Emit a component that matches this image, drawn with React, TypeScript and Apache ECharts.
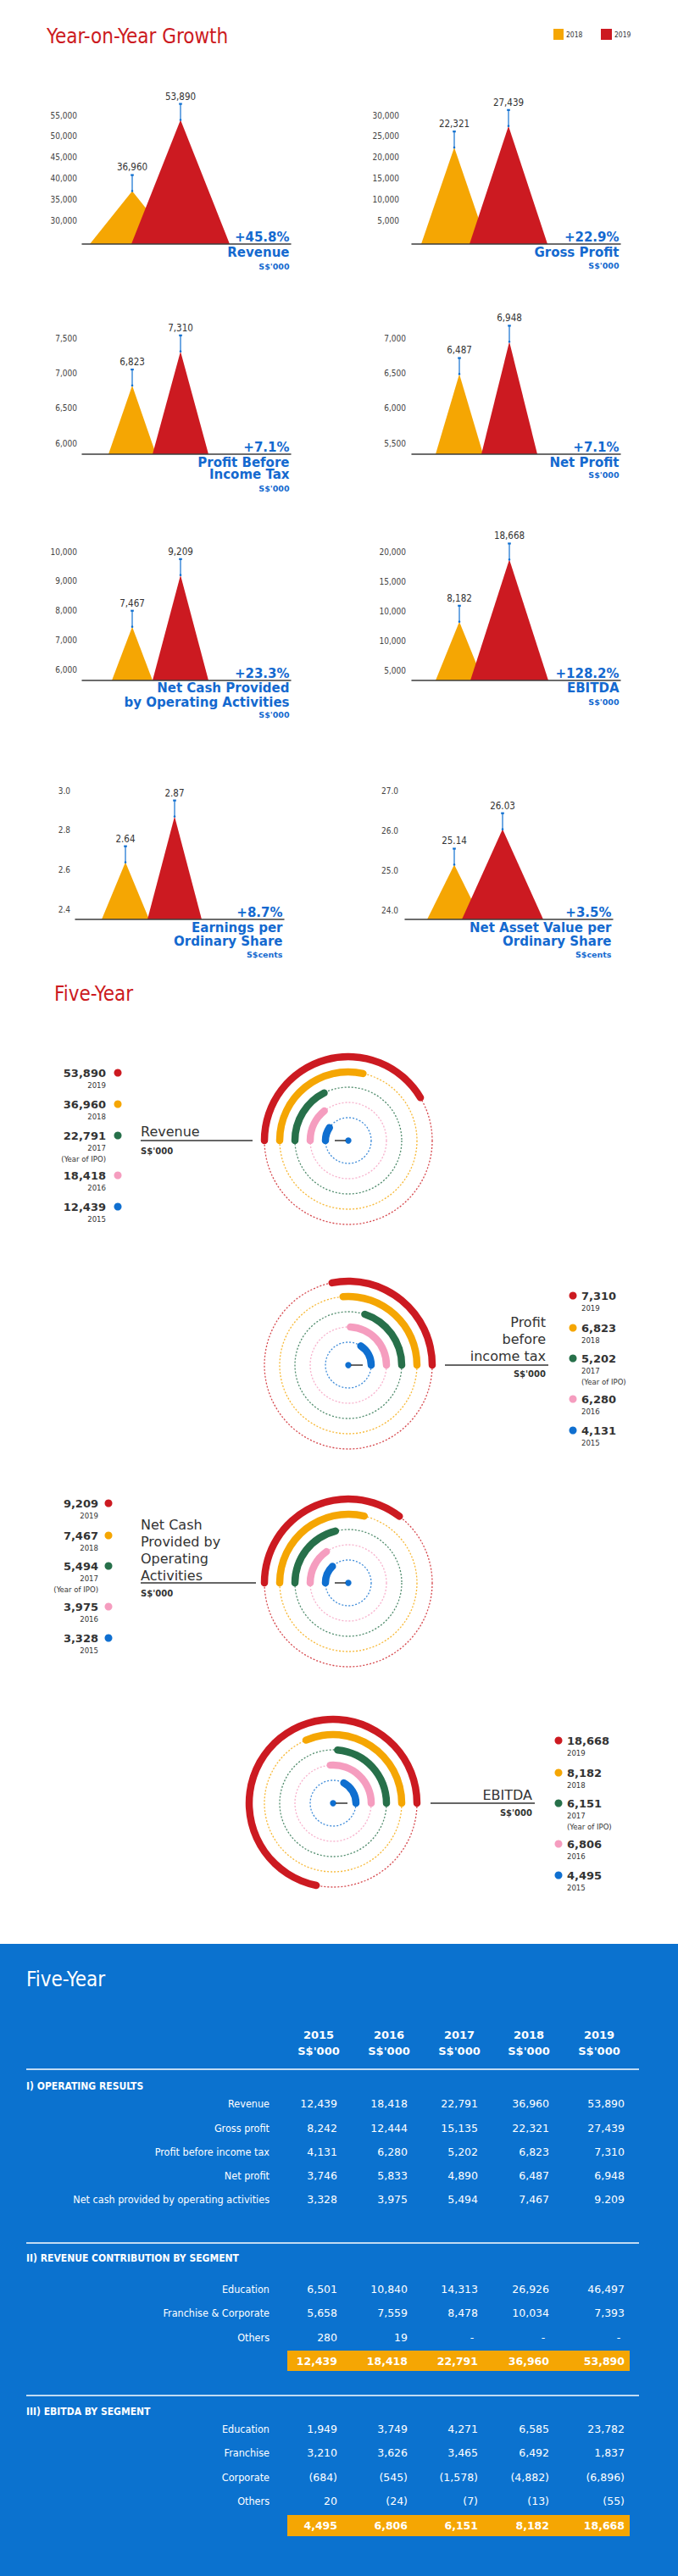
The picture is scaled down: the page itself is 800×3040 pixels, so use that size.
import React, { useEffect, useRef } from 'react';
import * as echarts from 'echarts';

// ---------------- data ----------------
const YOY_YEARS = ['2018', '2019'];
const REVENUE_YOY = [36960, 53890];
const GROSS_PROFIT_YOY = [22321, 27439];
const PBT_YOY = [6823, 7310];
const NET_PROFIT_YOY = [6487, 6948];
const NET_CASH_YOY = [7467, 9209];
const EBITDA_YOY = [8182, 18668];
const EPS_YOY = [2.64, 2.87];
const NAV_YOY = [25.14, 26.03];
const GROWTH_LABELS = ['+45.8%', '+22.9%', '+7.1%', '+7.1%', '+23.3%', '+128.2%', '+8.7%', '+3.5%'];

const REVENUE_TICKS = [30000, 35000, 40000, 45000, 50000, 55000];
const GROSS_PROFIT_TICKS = [5000, 10000, 15000, 20000, 25000, 30000];
const PBT_TICKS = [6000, 6500, 7000, 7500];
const NET_PROFIT_TICKS = [5500, 6000, 6500, 7000];
const NET_CASH_TICKS = [6000, 7000, 8000, 9000, 10000];
const EBITDA_TICKS = [0, 5000, 10000, 15000, 20000];
const EBITDA_TICK_LABELS = ['5,000', '10,000', '10,000', '15,000', '20,000'];
const EPS_TICKS = [2.4, 2.6, 2.8, 3.0];
const NAV_TICKS = [24, 25, 26, 27];

const FIVE_YEARS = ['2015', '2016', '2017', '2018', '2019'];
const REVENUE_5Y = [12439, 18418, 22791, 36960, 53890];
const PBT_5Y = [4131, 6280, 5202, 6823, 7310];
const NET_CASH_5Y = [3328, 3975, 5494, 7467, 9209];
const EBITDA_5Y = [4495, 6806, 6151, 8182, 18668];
const IPO_YEAR = '2017';

const TABLE_YEARS = ['2015', '2016', '2017', '2018', '2019'];
const OPERATING_LABELS = ['Revenue', 'Gross profit', 'Profit before income tax', 'Net profit', 'Net cash provided by operating activities'];
const OPERATING_ROWS = [
  ['12,439', '18,418', '22,791', '36,960', '53,890'],
  ['8,242', '12,444', '15,135', '22,321', '27,439'],
  ['4,131', '6,280', '5,202', '6,823', '7,310'],
  ['3,746', '5,833', '4,890', '6,487', '6,948'],
  ['3,328', '3,975', '5,494', '7,467', '9.209'],
];
const SEGMENT_LABELS = ['Education', 'Franchise & Corporate', 'Others'];
const SEGMENT_ROWS = [
  ['6,501', '10,840', '14,313', '26,926', '46,497'],
  ['5,658', '7,559', '8,478', '10,034', '7,393'],
  ['280', '19', '-', '-', '-'],
];
const SEGMENT_TOTAL = ['12,439', '18,418', '22,791', '36,960', '53,890'];
const EBITDA_SEG_LABELS = ['Education', 'Franchise', 'Corporate', 'Others'];
const EBITDA_SEG_ROWS = [
  ['1,949', '3,749', '4,271', '6,585', '23,782'],
  ['3,210', '3,626', '3,465', '6,492', '1,837'],
  ['(684)', '(545)', '(1,578)', '(4,882)', '(6,896)'],
  ['20', '(24)', '(7)', '(13)', '(55)'],
];
const EBITDA_SEG_TOTAL = ['4,495', '6,806', '6,151', '8,182', '18,668'];

// ---------------- styles ----------------
const RED = '#CC1A21';
const ORANGE = '#F5A603';
const GREEN = '#27704A';
const PINK = '#F59DBF';
const BLUE = '#0F6FD0';
const TEXT_BLUE = '#1469CF';
const DARK = '#333333';
const TABLE_BG = '#0B72CF';
const YEAR_COLORS = [BLUE, PINK, GREEN, ORANGE, RED];
const COND = "'DejaVu Sans Condensed', 'DejaVu Sans', sans-serif";
const SANS = "'DejaVu Sans', sans-serif";

function fmtNum(v: number, dec: number) {
  return v.toLocaleString('en-US', { minimumFractionDigits: dec, maximumFractionDigits: dec });
}

function T(text: string, x: number, y: number, o: any = {}) {
  const align = o.align || 'left';
  return {
    type: 'text', x, y, silent: true, z: 10,
    style: {
      text, fill: o.color || DARK, fontSize: o.size || 12, fontFamily: o.family || SANS,
      fontWeight: o.weight || 'normal', align, verticalAlign: 'middle', textAlign: align, textVerticalAlign: 'middle',
    },
  };
}
function L(x1: number, y1: number, x2: number, y2: number, color: string, w = 1.5) {
  return { type: 'line', silent: true, z: 10, shape: { x1, y1, x2, y2 }, style: { stroke: color, lineWidth: w } };
}
function C(cx: number, cy: number, r: number, color: string) {
  return { type: 'circle', silent: true, z: 10, shape: { cx, cy, r }, style: { fill: color } };
}
function R(x: number, y: number, width: number, height: number, color: string, z = 10) {
  return { type: 'rect', silent: true, z, shape: { x, y, width, height }, style: { fill: color } };
}

// triangle chart layouts
const TRI = [
  { values: REVENUE_YOY, ticks: REVENUE_TICKS, min: 24355, left: 97, top: 136, height: 152, width: 246, margin: 6, peaks: [59, 116], half: [50, 58], dec: 0, name: ['Revenue'], nameY: [298], unit: "S$'000", unitY: 314 },
  { values: GROSS_PROFIT_YOY, ticks: GROSS_PROFIT_TICKS, min: -645, left: 486, top: 136, height: 152, width: 246, margin: 15, peaks: [50, 114], half: [39, 46], dec: 0, name: ['Gross Profit'], nameY: [298], unit: "S$'000", unitY: 313 },
  { values: PBT_YOY, ticks: PBT_TICKS, min: 5843, left: 97, top: 399, height: 137, width: 246, margin: 6, peaks: [59, 116], half: [28, 33], dec: 0, name: ['Profit Before', 'Income Tax'], nameY: [546, 560], unit: "S$'000", unitY: 576 },
  { values: NET_PROFIT_YOY, ticks: NET_PROFIT_TICKS, min: 5343, left: 486, top: 399, height: 137, width: 246, margin: 7, peaks: [56, 115], half: [28, 33], dec: 0, name: ['Net Profit'], nameY: [546], unit: "S$'000", unitY: 560 },
  { values: NET_CASH_YOY, ticks: NET_CASH_TICKS, min: 5657, left: 97, top: 651, height: 152, width: 246, margin: 6, peaks: [59, 116], half: [24, 33], dec: 0, name: ['Net Cash Provided', 'by Operating Activities'], nameY: [812, 829], unit: "S$'000", unitY: 843 },
  { values: EBITDA_YOY, ticks: EBITDA_TICKS, tickLabels: EBITDA_TICK_LABELS, min: -1714, left: 486, top: 651, height: 152, width: 246, margin: 7, peaks: [56, 115], half: [28, 46], dec: 0, name: ['EBITDA'], nameY: [812], unit: "S$'000", unitY: 828 },
  { values: EPS_YOY, ticks: EPS_TICKS, min: 2.353, left: 89, top: 933, height: 152, width: 246, margin: 6, peaks: [59, 117], half: [28, 32], dec: 2, tickDec: 1, name: ['Earnings per', 'Ordinary Share'], nameY: [1095, 1111], unit: 'S$cents', unitY: 1126 },
  { values: NAV_YOY, ticks: NAV_TICKS, min: 23.766, left: 478, top: 933, height: 152, width: 245, margin: 8, peaks: [58, 115], half: [32, 48], dec: 2, tickDec: 1, name: ['Net Asset Value per', 'Ordinary Share'], nameY: [1095, 1111], unit: 'S$cents', unitY: 1126 },
];

// radial chart layouts (bar rings at radii 27..99, step 18)
const RING_INNER = 27;
const RING_OUTER = 99;
const RING_STEP = (RING_OUTER - RING_INNER) / (FIVE_YEARS.length - 1);
const POLAR = [
  { values: REVENUE_5Y, max: 130000, center: [411, 1346], startAngle: 180, clockwise: true },
  { values: PBT_5Y, max: 26000, center: [411, 1611], startAngle: 0, clockwise: false },
  { values: NET_CASH_5Y, max: 26000, center: [411, 1868], startAngle: 180, clockwise: true },
  { values: EBITDA_5Y, max: 26000, center: [393, 2128], startAngle: 0, clockwise: false },
];

function buildOption() {
  const grid: any[] = [];
  const xAxis: any[] = [];
  const yAxis: any[] = [];
  const series: any[] = [];
  const g: any[] = [];

  // titles & legend
  g.push(T('Year-on-Year Growth', 55, 43, { size: 24, color: RED, family: COND }));
  g.push(R(653, 34, 12, 13, ORANGE));
  g.push(T(YOY_YEARS[0], 668, 41, { size: 8.5, family: COND }));
  g.push(R(709, 34, 13, 13, RED));
  g.push(T(YOY_YEARS[1], 725, 41, { size: 8.5, family: COND }));

  TRI.forEach((c: any, k) => {
    grid.push({ left: c.left, top: c.top, width: c.width, height: c.height, containLabel: false });
    xAxis.push({
      gridIndex: k, type: 'value', min: 0, max: c.width, z: 5,
      axisLine: { show: true, onZero: false, lineStyle: { color: '#3c3c3c', width: 1.5 } },
      axisTick: { show: false }, axisLabel: { show: false }, splitLine: { show: false },
    });
    yAxis.push({
      gridIndex: k, type: 'value', min: c.min, max: c.ticks[c.ticks.length - 1],
      axisLine: { show: false }, axisTick: { show: false }, splitLine: { show: false },
      axisLabel: {
        customValues: c.ticks, margin: c.margin, color: '#444', fontSize: 10, fontFamily: COND,
        formatter: (v: number) => {
          const i = c.ticks.findIndex((t: number) => Math.abs(t - v) < 1e-6);
          if (c.tickLabels && i >= 0) return c.tickLabels[i];
          return fmtNum(v, c.tickDec || 0);
        },
      },
    });
    series.push({
      type: 'custom', xAxisIndex: k, yAxisIndex: k, silent: true,
      data: c.values.map((v: number, i: number) => [i, v]),
      renderItem: (params: any, api: any) => {
        const idx = params.dataIndex;
        const v = api.value(1);
        const px = c.peaks[idx];
        const hw = c.half[idx];
        const top = api.coord([px, v]);
        const bl = api.coord([px - hw, c.min]);
        const br = api.coord([px + hw, c.min]);
        const color = idx === 0 ? ORANGE : RED;
        return {
          type: 'group',
          children: [
            { type: 'polygon', shape: { points: [bl, top, br] }, style: { fill: color } },
            { type: 'line', shape: { x1: top[0], y1: top[1], x2: top[0], y2: top[1] - 19 }, style: { stroke: BLUE, lineWidth: 1.2 } },
            { type: 'rect', shape: { x: top[0] - 1.8, y: top[1] - 20, width: 3.6, height: 2.2 }, style: { fill: BLUE } },
            { type: 'circle', shape: { cx: top[0], cy: top[1], r: 1.3 }, style: { fill: BLUE } },
            {
              type: 'text', x: top[0], y: top[1] - 28,
              style: { text: fmtNum(v, c.dec), fill: DARK, fontSize: 11.5, fontFamily: COND, align: 'center', verticalAlign: 'middle', textAlign: 'center', textVerticalAlign: 'middle' },
            },
          ],
        };
      },
    });
    const right = c.left + c.width - 1.5;
    const base = c.top + c.height;
    g.push(T(GROWTH_LABELS[k], right, base - 8.5, { size: 15, color: TEXT_BLUE, align: 'right', weight: 'bold' }));
    c.name.forEach((n: string, i: number) => g.push(T(n, right, c.nameY[i], { size: 15, color: TEXT_BLUE, align: 'right', weight: 'bold' })));
    g.push(T(c.unit, right, c.unitY, { size: 9.5, color: TEXT_BLUE, align: 'right', weight: 'bold' }));
  });

  // Five-Year title
  g.push(T('Five-Year', 64, 1173, { size: 24, color: RED, family: COND }));

  const polar: any[] = [];
  const angleAxis: any[] = [];
  const radiusAxis: any[] = [];
  const hidden = { axisLine: { show: false }, axisTick: { show: false, interval: 0 }, axisLabel: { show: false, interval: 0 } };
  // bar polars: band centres fall on the ring radii
  POLAR.forEach((p, k) => {
    polar.push({ center: p.center, radius: [RING_INNER - RING_STEP / 2, RING_OUTER + RING_STEP / 2] });
    angleAxis.push({ polarIndex: k, type: 'value', min: 0, max: p.max, startAngle: p.startAngle, clockwise: p.clockwise, ...hidden, splitLine: { show: false } });
    radiusAxis.push({ polarIndex: k, type: 'category', data: FIVE_YEARS, ...hidden, splitLine: { show: false } });
    series.push({
      type: 'bar', coordinateSystem: 'polar', polarIndex: k, barWidth: 8.5, roundCap: true, silent: true, z: 3,
      data: p.values.map((v, i) => ({ value: v, itemStyle: { color: YEAR_COLORS[i] } })),
    });
  });
  // ring polars: dotted guide circles on each year's radius
  POLAR.forEach((p, k) => {
    const pi = POLAR.length + k;
    polar.push({ center: p.center, radius: [RING_INNER, RING_OUTER] });
    angleAxis.push({ polarIndex: pi, type: 'value', min: 0, max: p.max, ...hidden, splitLine: { show: false } });
    radiusAxis.push({
      polarIndex: pi, type: 'category', data: FIVE_YEARS, boundaryGap: false, ...hidden,
      splitLine: { show: true, interval: 0, lineStyle: { color: YEAR_COLORS, type: [2, 2], width: 1.3, opacity: 0.8 } },
    });
  });
  POLAR.forEach((p) => {
    const [cx, cy] = p.center;
    g.push(C(cx, cy, 3.7, BLUE));
    if (p.startAngle === 180) g.push(L(cx - 16, cy, cx - 3, cy, DARK, 1.5));
    else g.push(L(cx + 3, cy, cx + 17, cy, DARK, 1.5));
  });

  // radial legends
  const legend = (values: number[], ys: number[], side: 'left' | 'right', textX: number, dotX: number) => {
    for (let j = 0; j < 5; j++) {
      const i = 4 - j; // 2019 first
      const y = ys[j];
      const align = side === 'left' ? 'right' : 'left';
      g.push(C(dotX, y, 4.5, YEAR_COLORS[i]));
      g.push(T(fmtNum(values[i], 0), textX, y, { size: 13, weight: 'bold', align }));
      g.push(T(FIVE_YEARS[i], textX, y + 14, { size: 9.5, family: COND, align }));
      if (FIVE_YEARS[i] === IPO_YEAR) g.push(T('(Year of IPO)', textX, y + 27.5, { size: 9.5, family: COND, align }));
    }
  };
  legend(REVENUE_5Y, [1266, 1303, 1340, 1387, 1424], 'left', 125, 139);
  legend(PBT_5Y, [1529, 1567, 1603, 1651, 1688], 'right', 686, 676);
  legend(NET_CASH_5Y, [1774, 1812, 1848, 1896, 1933], 'left', 116, 128);
  legend(EBITDA_5Y, [2054, 2092, 2128, 2176, 2213], 'right', 669, 659);

  // radial labels
  g.push(T('Revenue', 166, 1335, { size: 16 }));
  g.push(L(166, 1346, 298, 1346, DARK));
  g.push(T("S$'000", 166, 1358, { size: 10, weight: 'bold' }));

  ['Profit', 'before', 'income tax'].forEach((s, i) => g.push(T(s, 644, 1560 + i * 20, { size: 16, align: 'right' })));
  g.push(L(525, 1611, 647, 1611, DARK));
  g.push(T("S$'000", 644, 1621, { size: 10, weight: 'bold', align: 'right' }));

  ['Net Cash', 'Provided by', 'Operating', 'Activities'].forEach((s, i) => g.push(T(s, 166, 1799 + i * 20, { size: 16 })));
  g.push(L(166, 1868, 302, 1868, DARK));
  g.push(T("S$'000", 166, 1880, { size: 10, weight: 'bold' }));

  g.push(T('EBITDA', 628, 2118, { size: 16, align: 'right' }));
  g.push(L(508, 2128, 631, 2128, DARK));
  g.push(T("S$'000", 628, 2139, { size: 10, weight: 'bold', align: 'right' }));

  // ---------------- table ----------------
  g.push(R(0, 2294, 800, 746, TABLE_BG, 1));
  const W = '#FFFFFF';
  g.push(T('Five-Year', 31, 2336, { size: 24, color: W, family: COND }));
  const hdrX = [376, 459, 542, 624, 707];
  const valX = [398, 481, 564, 648, 737];
  TABLE_YEARS.forEach((y, i) => {
    g.push(T(y, hdrX[i], 2401, { size: 13, weight: 'bold', color: W, align: 'center' }));
    g.push(T("S$'000", hdrX[i], 2420, { size: 13, weight: 'bold', color: W, align: 'center' }));
  });
  [2442, 2647, 2827].forEach((y) => g.push(L(31, y, 754, y, W, 1.5)));
  g.push(T('I) OPERATING RESULTS', 31, 2462, { size: 12, weight: 'bold', color: W, family: COND }));
  g.push(T('II) REVENUE CONTRIBUTION BY SEGMENT', 31, 2665, { size: 12, weight: 'bold', color: W, family: COND }));
  g.push(T('III) EBITDA BY SEGMENT', 31, 2846, { size: 12, weight: 'bold', color: W, family: COND }));

  const rows = (labels: string[], data: string[][], ys: number[]) => {
    labels.forEach((lab, r) => {
      g.push(T(lab, 318, ys[r], { size: 12.5, color: W, family: COND, align: 'right' }));
      data[r].forEach((v, i) => {
        if (v === '-') g.push(T(v, valX[i] - 7, ys[r], { size: 12.5, color: W, align: 'center' }));
        else g.push(T(v, valX[i], ys[r], { size: 12.5, color: W, align: 'right' }));
      });
    });
  };
  rows(OPERATING_LABELS, OPERATING_ROWS, [2482, 2511, 2539, 2567, 2595]);
  rows(SEGMENT_LABELS, SEGMENT_ROWS, [2701, 2729, 2758]);
  rows(EBITDA_SEG_LABELS, EBITDA_SEG_ROWS, [2866, 2894, 2923, 2951]);

  g.push(R(339, 2774, 404, 24, ORANGE, 5));
  SEGMENT_TOTAL.forEach((v, i) => g.push(T(v, valX[i], 2786, { size: 12.5, weight: 'bold', color: W, align: 'right' })));
  g.push(R(339, 2968, 404, 25, ORANGE, 5));
  EBITDA_SEG_TOTAL.forEach((v, i) => g.push(T(v, valX[i], 2980.5, { size: 12.5, weight: 'bold', color: W, align: 'right' })));

  return {
    animation: false,
    backgroundColor: '#FFFFFF',
    grid, xAxis, yAxis, polar, angleAxis, radiusAxis, series,
    graphic: { elements: g },
  };
}

export default function App() {
  const ref = useRef<HTMLDivElement>(null);
  useEffect(() => {
    const chart = echarts.init(ref.current as HTMLDivElement, undefined, { renderer: 'svg', width: 800, height: 3040 });
    chart.setOption(buildOption() as any);
    return () => chart.dispose();
  }, []);
  return <div ref={ref} style={{ position: 'absolute', left: 0, top: 0, width: 800, height: 3040 }} />;
}
